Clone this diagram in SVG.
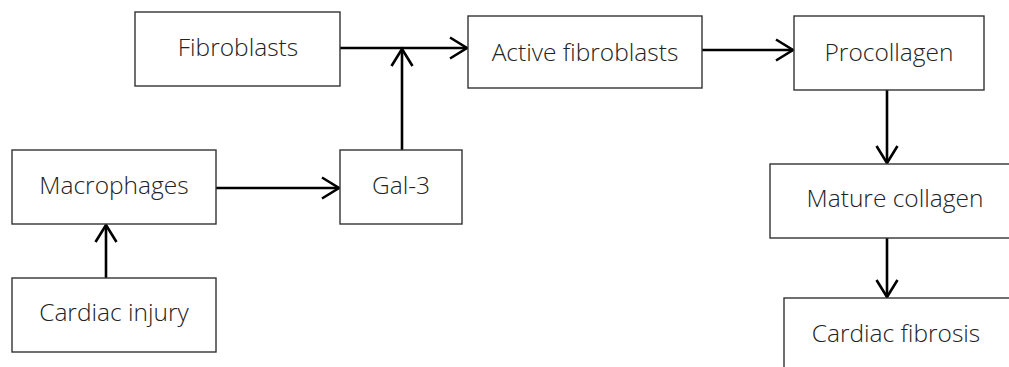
<svg xmlns="http://www.w3.org/2000/svg" width="1009" height="367" viewBox="0 0 1009 367">
<defs>
<style>
.box{fill:#fff;stroke:#333;stroke-width:1.4}
.lbl{font-family:"Open Sans","Noto Sans","DejaVu Sans",sans-serif;font-weight:300;font-size:24.5px;fill:#222;text-anchor:middle}
.con{stroke:#000;stroke-width:2.6;fill:none;marker-end:url(#arr)}
</style>
<marker id="arr" markerUnits="userSpaceOnUse" markerWidth="30" markerHeight="30" viewBox="-20 -15 30 30" refX="0" refY="0" orient="auto" overflow="visible">
<path d="M-17,-10.5 L0,0 L-17,10.5" fill="none" stroke="#000" stroke-width="2.6"/>
</marker>
</defs>
<rect width="1009" height="367" fill="#fff"/>
<g id="connectors">
<line class="con" x1="340" y1="48" x2="467" y2="48"/>
<line class="con" x1="402" y1="150" x2="402" y2="49"/>
<line class="con" x1="216" y1="188" x2="339" y2="188"/>
<line class="con" x1="106" y1="278" x2="106" y2="225"/>
<line class="con" x1="702" y1="50" x2="793" y2="50"/>
<line class="con" x1="887" y1="90" x2="887" y2="163"/>
<line class="con" x1="887" y1="238" x2="887" y2="297"/>
</g>
<g id="fibroblasts"><rect class="box" x="135" y="12" width="205" height="74"/><text class="lbl" x="238" y="56">Fibroblasts</text></g>
<g id="active-fibroblasts"><rect class="box" x="468" y="16" width="234" height="72"/><text class="lbl" x="585" y="61">Active fibroblasts</text></g>
<g id="procollagen"><rect class="box" x="794" y="16" width="190" height="74"/><text class="lbl" x="889" y="61">Procollagen</text></g>
<g id="macrophages"><rect class="box" x="12" y="150" width="204" height="74"/><text class="lbl" x="114" y="194">Macrophages</text></g>
<g id="gal-3"><rect class="box" x="340" y="150" width="122" height="74"/><text class="lbl" x="401" y="194">Gal-3</text></g>
<g id="cardiac-injury"><rect class="box" x="12" y="278" width="204" height="74"/><text class="lbl" x="114" y="321">Cardiac injury</text></g>
<g id="mature-collagen"><rect class="box" x="770" y="164" width="250" height="74"/><text class="lbl" x="895" y="207">Mature collagen</text></g>
<g id="cardiac-fibrosis"><rect class="box" x="784" y="298" width="240" height="100"/><text class="lbl" x="896" y="342">Cardiac fibrosis</text></g>
</svg>
